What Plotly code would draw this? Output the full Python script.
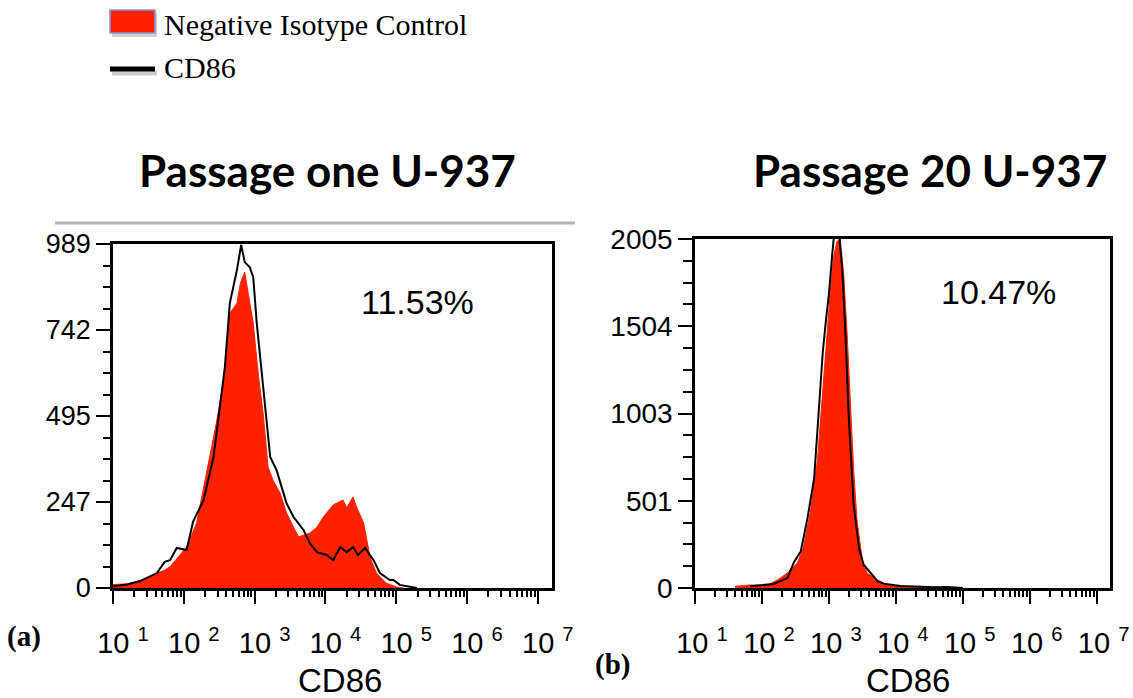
import plotly.graph_objects as go

W, H = 1133, 698

# ---------------- data (x = log10 of CD86 intensity, y = counts) ----------------
p1_iso_log = [1.00, 1.20, 1.38, 1.50, 1.62, 1.72, 1.805, 1.90, 2.04, 2.18, 2.32, 2.46, 2.58, 2.65,
              2.75, 2.80, 2.86, 2.93, 2.98, 3.05, 3.12, 3.19, 3.26, 3.36, 3.45, 3.55, 3.62,
              3.69, 3.78, 3.88, 3.97, 4.11, 4.25, 4.30, 4.39, 4.44, 4.54, 4.63, 4.72, 4.86,
              5.00, 5.10]
p1_iso = [10, 12, 20, 30, 43, 50, 61, 85, 118, 187, 330, 474, 618, 790,
          819, 877, 908, 828, 762, 618, 503, 348, 310, 273, 216, 175, 147,
          152, 158, 175, 204, 239, 253, 230, 262, 233, 187, 89, 43, 14,
          3, 0]

p1_cd86_log = [1.00, 1.20, 1.38, 1.62, 1.73, 1.805, 1.90, 2.04, 2.13, 2.28, 2.42, 2.51, 2.58,
               2.65, 2.75, 2.81, 2.86, 2.93, 2.98, 3.03, 3.12, 3.22, 3.31, 3.45, 3.55, 3.69,
               3.78, 3.88, 4.02, 4.11, 4.21, 4.30, 4.39, 4.46, 4.56, 4.68, 4.77, 4.91, 4.96,
               5.05, 5.29]
p1_cd86 = [5, 10, 20, 43, 75, 80, 115, 109, 190, 253, 377, 532, 635,
           819, 914, 986, 937, 923, 894, 762, 569, 377, 339, 244, 204, 167,
           129, 103, 95, 80, 118, 103, 118, 95, 115, 80, 43, 23, 23,
           9, 0]

p20_iso_log = [1.60, 1.82, 2.08, 2.23, 2.38, 2.53, 2.62, 2.72, 2.83, 2.92, 3.02, 3.07, 3.12,
               3.17, 3.22, 3.27, 3.32, 3.37, 3.42, 3.50, 3.57, 3.73, 3.88, 4.07, 4.37, 4.45]
p20_iso = [10, 17, 17, 46, 86, 144, 236, 430, 735, 1195, 1695, 1900, 1990,
           2005, 1810, 1480, 1040, 680, 390, 160, 86, 46, 17, 11, 5, 0]

p20_cd86_log = [1.82, 2.18, 2.38, 2.48, 2.58, 2.68, 2.78, 2.86, 2.91, 2.96, 3.00, 3.05, 3.08,
                3.15, 3.20, 3.25, 3.30, 3.37, 3.45, 3.52, 3.62, 3.73, 3.82, 3.97, 4.07, 4.57,
                4.77, 5.00]
p20_cd86 = [10, 23, 57, 150, 210, 400, 630, 1050, 1360, 1550, 1685, 1915, 2040,
            2040, 1830, 1440, 960, 480, 230, 134, 86, 38, 25, 17, 11, 5,
            6, 0]

y1_ticks = [0, 247.25, 494.5, 741.75, 989]
y1_labels = ["0", "247", "495", "742", "989"]
y2_ticks = [0, 501.25, 1002.5, 1503.75, 2005]
y2_labels = ["0", "501", "1003", "1504", "2005"]
x_decades = [1, 2, 3, 4, 5, 6, 7]

RED = "rgb(255,34,0)"


def px(x):
    return x / W


def py(y):
    return 1 - y / H


x_ticks = [10.0 ** d for d in x_decades]
x_labels = ["10 <sup>%d</sup>" % d for d in x_decades]
minor_x = [m * 10.0 ** d for d in range(1, 8) for m in range(2, 10)]

fig = go.Figure()
fig.add_trace(go.Scatter(x=[10.0 ** v for v in p1_iso_log], y=p1_iso, mode="lines", fill="tozeroy",
                         fillcolor=RED, line=dict(color=RED, width=1),
                         name="Negative Isotype Control", xaxis="x", yaxis="y"))
fig.add_trace(go.Scatter(x=[10.0 ** v for v in p1_cd86_log], y=p1_cd86, mode="lines",
                         line=dict(color="black", width=2), name="CD86", xaxis="x", yaxis="y"))
fig.add_trace(go.Scatter(x=[10.0 ** v for v in p20_iso_log], y=p20_iso, mode="lines", fill="tozeroy",
                         fillcolor=RED, line=dict(color=RED, width=1),
                         name="Negative Isotype Control", xaxis="x2", yaxis="y2"))
fig.add_trace(go.Scatter(x=[10.0 ** v for v in p20_cd86_log], y=p20_cd86, mode="lines",
                         line=dict(color="black", width=2), name="CD86", xaxis="x2", yaxis="y2"))

AX_FONT = "Liberation Sans, Arial, sans-serif"


def main_x(domain, anchor, shift):
    return dict(domain=domain, anchor=anchor, type="log", range=[1, 7.2], automargin=False,
                showline=True, linecolor="black", linewidth=3, mirror=True,
                showgrid=False, zeroline=False,
                tickmode="array", tickvals=x_ticks, ticktext=x_labels,
                tickfont=dict(family=AX_FONT, size=29, color="black"),
                ticklabelstandoff=14, ticklabelshift=shift,
                ticks="outside", ticklen=13, tickwidth=2, tickcolor="black",
                minor=dict(tickmode="array", tickvals=minor_x, ticks="outside",
                           ticklen=6, tickwidth=2, tickcolor="black", showgrid=False))


def main_y(domain, anchor, rng, tv, tt, minor_dt, size, mlen):
    return dict(domain=domain, anchor=anchor, range=rng, automargin=False,
                showline=True, linecolor="black", linewidth=2.5, mirror=True,
                showgrid=False, zeroline=False,
                tickmode="array", tickvals=tv, ticktext=tt,
                ticks="outside", ticklen=14, tickwidth=2, tickcolor="black",
                tickfont=dict(family=AX_FONT, size=size, color="black"),
                minor=dict(tickmode="linear", tick0=0, dtick=minor_dt, ticks="outside",
                           ticklen=mlen, tickwidth=2, tickcolor="black", showgrid=False))


ybot = py(588)
fig.update_layout(
    width=W, height=H, margin=dict(l=0, r=0, t=0, b=0, autoexpand=False),
    paper_bgcolor="white", plot_bgcolor="white", showlegend=False,
    xaxis=main_x([px(113), px(552)], "y", 10),
    xaxis2=main_x([px(695), px(1110)], "y2", 7),
    yaxis=main_y([ybot, py(244)], "x", [0, 989], y1_ticks, y1_labels, 61.8125, 27, 7),
    yaxis2=main_y([ybot, py(239)], "x2", [0, 2005], y2_ticks, y2_labels, 125.3125, 28, 9),
)

ann = []


def text(x, y, s, size, family, bold=False, xanchor="center"):
    ann.append(dict(x=px(x), y=py(y), xref="paper", yref="paper",
                    text=("<b>%s</b>" % s) if bold else s,
                    showarrow=False, xanchor=xanchor, yanchor="middle",
                    font=dict(family=family, size=size, color="black")))


TITLE_FONT = "Lato, Open Sans, sans-serif"
SERIF = "Liberation Serif, Times New Roman, serif"
text(327, 170, "Passage one U-937", 44, TITLE_FONT, bold=True)
text(930, 170, "Passage 20 U-937", 44, TITLE_FONT, bold=True)
text(417, 302, "11.53%", 34, AX_FONT)
text(998, 292, "10.47%", 34, AX_FONT)
text(340, 680, "CD86", 33, AX_FONT)
text(908, 680, "CD86", 33, AX_FONT)
text(24, 636, "(a)", 29, SERIF, bold=True)
text(612, 664, "(b)", 29, SERIF, bold=True)
text(162, 24, "Negative Isotype Control", 30, SERIF, xanchor="left")
text(162, 67, "CD86", 30, SERIF, xanchor="left")
fig.update_layout(annotations=ann)

shapes = [
    dict(type="line", xref="paper", yref="paper", x0=px(55), x1=px(575), y0=py(223), y1=py(223),
         line=dict(color="#b4b4b4", width=3)),
    dict(type="rect", xref="paper", yref="paper", x0=px(112), x1=px(157), y0=py(13), y1=py(37),
         fillcolor="rgba(0,0,0,0.18)", line=dict(width=0)),
    dict(type="rect", xref="paper", yref="paper", x0=px(110), x1=px(155), y0=py(10), y1=py(33),
         fillcolor=RED, line=dict(color="#7f9bd6", width=1.5)),
    dict(type="line", xref="paper", yref="paper", x0=px(112), x1=px(157), y0=py(73), y1=py(73),
         line=dict(color="rgba(0,0,0,0.2)", width=5)),
    dict(type="line", xref="paper", yref="paper", x0=px(110), x1=px(155), y0=py(69), y1=py(69),
         line=dict(color="black", width=5)),
]
fig.update_layout(shapes=shapes)

fig.write_html("out.html")
